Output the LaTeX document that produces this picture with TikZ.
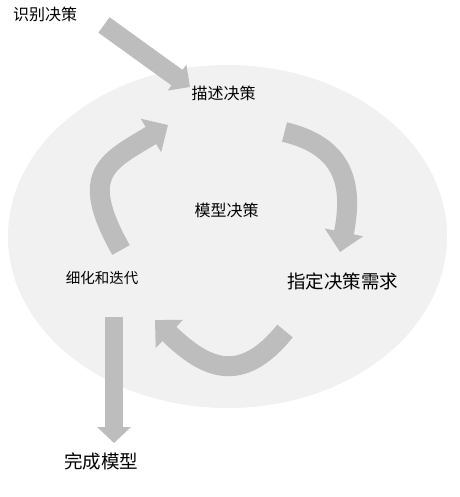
\documentclass[tikz,border=0pt]{standalone}
\usepackage{fontspec}
\setmainfont{Noto Sans CJK SC}
\usetikzlibrary{arrows.meta}
\newcommand\myfs[1]{\fontsize{#1}{#1}\selectfont}
\definecolor{ellgray}{HTML}{F1F1F1}
\definecolor{arrgray}{HTML}{BDBDBD}
\tikzset{
  lbl/.style={inner sep=0pt, text=black},
  bigarrow/.style={draw=arrgray, line width=20pt, -{Triangle[width=38pt,length=20pt]}},
  strarrow/.style={draw=arrgray, line width=19pt, -{Triangle[width=31pt,length=16pt]}},
}
\begin{document}
\begin{tikzpicture}[x=1pt,y=-1pt]
\useasboundingbox (0,0) rectangle (459,497);
\fill[white] (0,0) rectangle (459,497);
% background ellipse
\fill[ellgray] (227.5,236.5) ellipse [x radius=219.5pt, y radius=171.5pt];
% labels
\node[lbl, font=\myfs{16}] (identify) at (45,14) {识别决策};
\node[lbl, font=\myfs{16}] (describe) at (223.5,93.5) {描述决策};
\node[lbl, font=\myfs{16}] (model) at (226.5,210) {模型决策};
\node[lbl, font=\myfs{18.5}] (specify) at (342.5,281) {指定决策需求};
\node[lbl, font=\myfs{14.5}] (refine) at (102,278) {细化和迭代};
\node[lbl, font=\myfs{18.5}] (finish) at (101,461.5) {完成模型};
% arrow end points
\coordinate (a1s) at (104,25);
\coordinate (a1e) at (190,87);
\coordinate (a2s) at (284.5,132);
\coordinate (a2e) at (340,252);
\coordinate (a3s) at (285,331);
\coordinate (a3e) at (155,320);
\coordinate (a4s) at (121,250);
\coordinate (a4e) at (168,125);
\coordinate (a5s) at (114,317);
\coordinate (a5e) at (114,443);
% arrows
\draw[strarrow] (a1s) -- (a1e);
\draw[bigarrow] (a2s) .. controls (343,146) and (354,183) .. (a2e);
\draw[bigarrow] (a3s) .. controls (241,385.6) and (205.4,369) .. (a3e);
\draw[bigarrow] (a4s) .. controls (77,172) and (108.5,161.4) .. (a4e);
\draw[strarrow, line width=18pt, -{Triangle[width=33pt,length=16pt]}] (a5s) -- (a5e);
\end{tikzpicture}
\end{document}
